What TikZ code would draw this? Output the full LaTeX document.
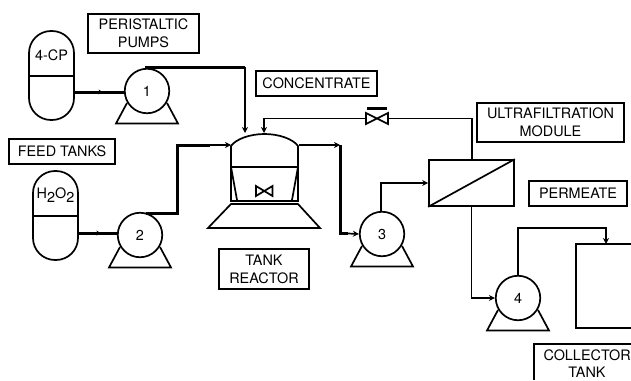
\documentclass[tikz,border=0pt]{standalone}
\usepackage{fontspec}
\setmainfont{TeX Gyre Heros}
\usetikzlibrary{arrows.meta,decorations.markings}
\tikzset{
  x=1pt,y=-1pt,
  lbl/.style={draw=black,line width=1.7pt,inner sep=0pt,align=center,font=\fontsize{14.4}{18}\selectfont},
  tankbody/.style={draw=black,line width=1.7pt,rounded corners=22pt,minimum width=45pt,minimum height=89pt,inner sep=0pt},
  pumpbody/.style={draw=black,line width=1.7pt,circle,minimum size=44.5pt,inner sep=0pt,font=\fontsize{14.4}{18}\selectfont},
  txt/.style={inner sep=0pt,align=center,font=\fontsize{14.4}{18}\selectfont},
  pipe/.style={line width=1.7pt},
  heavy/.style={line width=3pt},
  tip/.style={-{Stealth[length=6pt,width=6pt]}},
  midtip/.style={decoration={markings,mark=at position 0.56 with {\arrow{Stealth[length=4pt,width=5pt]}}},postaction={decorate}},
}
\newcommand{\lblbox}[6]{\node[lbl,minimum width=#4pt,minimum height=#5pt] (#1) at (#2,#3) {#6};}
\newcommand{\pumpbase}[1]{\draw[pipe,line join=miter] ([shift={(-20pt,-12pt)}]#1.center) -- ([shift={(-31pt,-32.5pt)}]#1.center) -- ([shift={(31pt,-32.5pt)}]#1.center) -- ([shift={(20pt,-12pt)}]#1.center);}
\begin{document}
\begin{tikzpicture}
\useasboundingbox (0,0) rectangle (631,380);
% labels
\lblbox{lpp}{143.5}{33.5}{111}{39}{PERISTALTIC\\PUMPS}
\lblbox{lft}{62}{151.5}{106}{25}{FEED TANKS}
\lblbox{lcon}{316.5}{83.5}{121}{25}{CONCENTRATE}
\lblbox{luf}{550.5}{122.5}{147}{39}{ULTRAFILTRATION\\MODULE}
\lblbox{lper}{578}{193.5}{98}{25}{PERMEATE}
\lblbox{ltr}{264}{269}{90}{40}{TANK\\REACTOR}
% feed tanks
\node[tankbody] (t1) at (51.5,75.5) {};
\coordinate (t1a) at (29,76); \coordinate (t1b) at (74,76);
\draw[pipe] (t1a) -- (t1b);
\node[txt] (t1t) at (51.5,55) {4-CP};
\node[tankbody] (t2) at (55.5,215.5) {};
\coordinate (t2a) at (33,216); \coordinate (t2b) at (78,216);
\draw[pipe] (t2a) -- (t2b);
\node[txt] (t2t) at (55.5,195) {H\raisebox{-0.6ex}{2}O\raisebox{-0.6ex}{2}};
% pumps
\node[pumpbody] (p1) at (147,91) {1};
\node[pumpbody] (p2) at (140,235) {2};
\node[pumpbody] (p3) at (382,234) {3};
\node[pumpbody] (p4) at (518,298) {4};
\foreach \p in {p1,p2,p3,p4} {\pumpbase{\p}}
% reactor
\coordinate (rl) at (231,146); \coordinate (rr) at (298,146);
\coordinate (rbl) at (231,201); \coordinate (rbr) at (298,201);
\draw[pipe,line join=miter] (rbl) -- (rl) .. controls (236,139) and (250,134) .. (264.5,134) .. controls (279,134) and (293,139) .. (rr) -- (rbr) -- cycle;
\coordinate (rml) at (231,167); \coordinate (rmr) at (298,167);
\draw[pipe] (rml) -- (rmr);
\draw[pipe] (rml) -- (237,200);
\draw[pipe] (rmr) -- (292,200);
\draw[pipe,line join=miter] (231,204) -- (298,204) -- (320,228) -- (208,228) -- cycle;
\draw[pipe,line join=miter] (256,186) -- (272.5,196) -- (272.5,186) -- (256,196) -- cycle;
% membrane
\node[draw=black,line width=1.7pt,minimum width=85pt,minimum height=46pt,inner sep=0pt] (um) at (471.5,183) {};
\draw[pipe] (um.south west) -- (um.north east);
% concentrate valve
\coordinate (vl) at (366,118.5); \coordinate (vr) at (388,118.5);
\draw[pipe,line join=miter] (366,113) -- (388,124) -- (388,113) -- (366,124) -- cycle;
\draw[line width=3pt] (367,108) -- (387,108);
% collector tank
\coordinate (ctr) at (631,244); \coordinate (ctl) at (576,244);
\coordinate (cbl) at (576,328); \coordinate (cbr) at (631,328);
\draw[pipe,line join=miter] (ctr) -- (ctl) -- (cbl) -- (cbr);
\coordinate (cla) at (631,344); \coordinate (clb) at (534,344); \coordinate (clc) at (534,380);
\draw[pipe,line join=miter] (cla) -- (clb) -- (clc);
\node[txt,anchor=east] (lct1) at (631,355) {COLLECTOR};
\node[txt] (lct2) at (587,372) {TANK};
% connectors
\coordinate (t1o) at (74,92); \coordinate (p1i) at (125,92);
\draw[heavy,midtip] (t1o) -- (p1i);
\coordinate (t2o) at (78,233); \coordinate (p2i) at (118,233);
\draw[heavy,midtip] (t2o) -- (p2i);
\coordinate (p1o) at (145,67); \coordinate (c1) at (245,67); \coordinate (r1) at (245,133);
\draw[heavy] (p1o) -- (c1);
\draw[pipe,tip] (c1) -- (r1);
\coordinate (p2o) at (146,213); \coordinate (c2) at (177,213); \coordinate (c3) at (177,145); \coordinate (c4) at (210,145);
\draw[heavy,line join=miter] (p2o) -- (c2) -- (c3) -- (c4);
\draw[pipe,tip] (c4) -- (rl|-c4);
\coordinate (c5) at (340,145); \coordinate (c6) at (340,233.5);
\draw[pipe,tip] (299,145) -- (c5);
\draw[heavy,line join=miter] (c5) -- (c6) -- (348,233.5);
\draw[pipe,tip] (348,233.5) -- (p3.west);
\coordinate (c7) at (381,183);
\draw[pipe,line join=miter,tip] (p3.north-|c7) -- (c7) -- (um.west|-c7);
\coordinate (c8) at (472,118.5);
\draw[pipe,line join=miter] (um.north-|c8) -- (c8) -- (vr);
\coordinate (c9) at (264,118.5);
\draw[pipe,line join=miter,tip] (vl) -- (c9) -- (264,133);
\coordinate (c10) at (471.5,298);
\draw[pipe,line join=miter,tip] (um.south-|c10) -- (c10) -- (p4.west);
\coordinate (c11) at (518,228); \coordinate (c12) at (606,228);
\draw[pipe,line join=miter,tip] (p4.north) -- (c11) -- (c12) -- (c12|-ctl);
\end{tikzpicture}
\end{document}
